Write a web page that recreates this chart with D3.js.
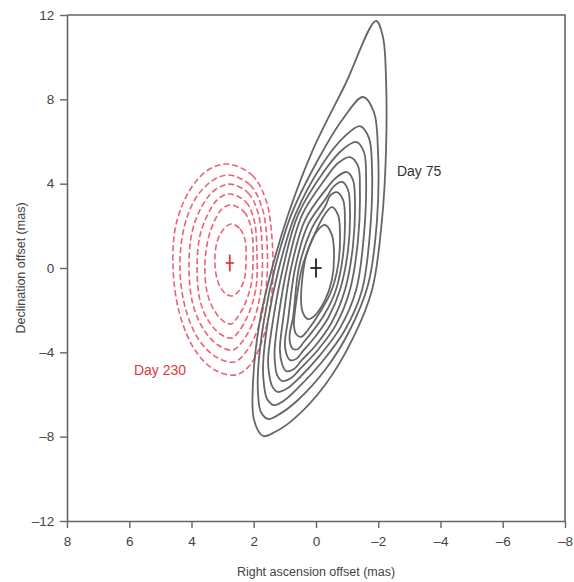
<!DOCTYPE html>
<html>
<head>
<meta charset="utf-8">
<script src="https://cdn.jsdelivr.net/npm/d3@7/dist/d3.min.js"></script>
<style>
  body { margin: 0; background: #fff; }
  svg text { font-family: 'Liberation Sans', Arial, sans-serif; }
</style>
</head>
<body>
<svg id="chart" width="574" height="582"></svg>
<script>
// tick values
const xTicks = [8, 6, 4, 2, 0, -2, -4, -6, -8];
const yTicks = [12, 8, 4, 0, -4, -8, -12];

// Day 75 contours, outer to inner, [ra, dec] in mas
const day75Contours = [
  [[-1.93, 11.72], [-2.15, 10.96], [-2.25, 8.92], [-2.25, 5.6], [-2.12, 2.28], [-1.8, -1.04], [-1.16, -3.41], [-0.29, -5.55], [0.67, -7.11], [1.32, -7.78], [1.7, -7.97], [1.99, -7.21], [2.02, -5.31], [1.8, -2.47], [1.41, 0], [0.9, 2.51], [0.1, 5.6], [-0.93, 8.68]],
  [[-1.51, 8.11], [-1.86, 7.4], [-1.99, 5.6], [-1.96, 2.28], [-1.67, -0.81], [-1.09, -2.94], [-0.29, -4.84], [0.58, -6.26], [1.16, -6.92], [1.54, -7.16], [1.77, -6.83], [1.86, -6.02], [1.86, -4.84], [1.67, -2.47], [1.32, 0], [0.8, 2.51], [-0.06, 5.12], [-0.84, 7.02]],
  [[-1.41, 6.73], [-1.7, 6.17], [-1.8, 4.65], [-1.74, 1.8], [-1.48, -1.04], [-0.93, -2.94], [-0.19, -4.46], [0.58, -5.69], [1.0, -6.26], [1.35, -6.5], [1.57, -6.21], [1.67, -5.55], [1.7, -4.6], [1.54, -2.47], [1.19, 0], [0.67, 2.51], [-0.19, 4.89], [-0.87, 6.17]],
  [[-1.29, 5.98], [-1.54, 5.5], [-1.61, 4.17], [-1.54, 1.57], [-1.29, -1.04], [-0.77, -2.85], [-0.13, -4.13], [0.51, -5.17], [0.9, -5.69], [1.22, -5.88], [1.41, -5.6], [1.51, -4.98], [1.54, -4.36], [1.38, -2.47], [1.06, 0], [0.58, 2.51], [-0.29, 4.65], [-0.84, 5.6]],
  [[-1.09, 5.26], [-1.35, 4.84], [-1.41, 3.7], [-1.35, 1.33], [-1.09, -1.04], [-0.64, -2.7], [-0.06, -3.89], [0.48, -4.74], [0.8, -5.22], [1.09, -5.36], [1.25, -5.07], [1.32, -4.46], [1.33, -3.9], [1.22, -2.47], [0.93, 0], [0.45, 2.51], [-0.32, 4.27], [-0.71, 4.98]],
  [[-1.0, 4.55], [-1.19, 4.17], [-1.25, 3.23], [-1.19, 1.09], [-0.93, -1.04], [-0.51, -2.56], [0, -3.65], [0.45, -4.36], [0.71, -4.79], [0.96, -4.89], [1.09, -4.55], [1.16, -3.89], [1.06, -2.47], [0.8, 0], [0.35, 2.28], [-0.35, 3.79], [-0.67, 4.32]],
  [[-0.84, 4.08], [-1.03, 3.7], [-1.09, 2.75], [-1.03, 0.85], [-0.77, -1.04], [-0.39, -2.37], [0.06, -3.32], [0.42, -3.94], [0.64, -4.32], [0.84, -4.36], [0.96, -4.03], [1.0, -3.56], [0.9, -2.47], [0.67, 0], [0.26, 2.04], [-0.35, 3.37], [-0.55, 3.84]],
  [[-0.67, 3.6], [-0.87, 3.23], [-0.93, 2.28], [-0.87, 0.62], [-0.64, -1.04], [-0.26, -2.23], [0.13, -3.04], [0.39, -3.51], [0.58, -3.84], [0.74, -3.84], [0.84, -3.51], [0.84, -3.08], [0.74, -2.37], [0.55, 0], [0.16, 1.8], [-0.32, 2.99], [-0.45, 3.42]],
  [[-0.51, 2.89], [-0.71, 2.51], [-0.77, 1.57], [-0.71, 0.14], [-0.48, -1.14], [-0.13, -2.09], [0.26, -2.94], [0.48, -3.27], [0.64, -3.13], [0.71, -2.7], [0.67, -1.99], [0.45, 0], [0.1, 1.42], [-0.29, 2.56]],
  [[-0.29, 2.04], [-0.51, 1.57], [-0.58, 0.62], [-0.51, -0.57], [-0.29, -1.52], [0.06, -2.28], [0.26, -2.42], [0.42, -2.13], [0.48, -1.52], [0.35, 0.38], [0.13, 1.33], [-0.06, 1.8]]
];

// Day 230 contours, outer to inner
const day230Contours = [
  [[2.83, 4.93], [2.06, 4.41], [1.61, 3.23], [1.41, 1.33], [1.41, -1.04], [1.67, -3.18], [2.12, -4.6], [2.57, -5.07], [3.25, -4.84], [3.89, -3.89], [4.37, -2.23], [4.59, -0.09], [4.5, 2.04], [4.05, 3.7], [3.47, 4.65]],
  [[2.8, 4.41], [2.12, 3.94], [1.73, 2.85], [1.57, 1.09], [1.61, -1.04], [1.86, -2.85], [2.25, -3.98], [2.63, -4.46], [3.21, -4.22], [3.76, -3.41], [4.18, -1.99], [4.37, -0.09], [4.24, 1.9], [3.86, 3.32], [3.34, 4.13]],
  [[2.76, 3.98], [2.18, 3.56], [1.86, 2.61], [1.73, 0.95], [1.77, -1.04], [2.02, -2.56], [2.38, -3.51], [2.67, -3.89], [3.15, -3.65], [3.6, -2.94], [3.95, -1.75], [4.08, -0.09], [3.98, 1.71], [3.66, 2.94], [3.25, 3.7]],
  [[2.76, 3.51], [2.25, 3.13], [1.99, 2.28], [1.9, 0.85], [1.93, -0.95], [2.18, -2.23], [2.47, -2.99], [2.7, -3.32], [3.08, -3.13], [3.47, -2.47], [3.73, -1.52], [3.82, 0], [3.73, 1.52], [3.47, 2.56], [3.15, 3.27]],
  [[2.73, 2.99], [2.31, 2.66], [2.09, 1.94], [2.02, 0.71], [2.09, -0.81], [2.31, -1.8], [2.54, -2.37], [2.73, -2.66], [3.02, -2.47], [3.31, -1.9], [3.5, -1.14], [3.57, 0.14], [3.47, 1.33], [3.28, 2.18], [3.02, 2.8]],
  [[2.73, 2.09], [2.44, 1.85], [2.28, 1.33], [2.25, 0.38], [2.31, -0.57], [2.51, -1.14], [2.73, -1.33], [2.96, -1.14], [3.15, -0.66], [3.25, 0.28], [3.18, 1.23], [2.99, 1.8]]
];

// positions with error bars: [ra, dec, raErr, decErr]
const day75Pos = [0, 0, 0.18, 0.45];
const day230Pos = [2.77, 0.24, 0.13, 0.4];

const labels = [
  { text: 'Day 75', x: -2.6, y: 4.6, color: '#333' },
  { text: 'Day 230', x: 5.85, y: -4.85, color: '#e0383c' }
];

const margin = { top: 15, right: 9, bottom: 61, left: 67 };
const width = 574 - margin.left - margin.right;
const height = 582 - margin.top - margin.bottom;

const svg = d3.select('#chart');
const g = svg.append('g').attr('transform', `translate(${margin.left},${margin.top})`);

const xScale = d3.scaleLinear().domain([8, -8]).range([0, width]);
const yScale = d3.scaleLinear().domain([-12, 12]).range([height, 0]);

const fmt = d => (d < 0 ? '\u2013' + Math.abs(d) : d);

// frame: top and right lines
g.append('path')
  .attr('d', `M0,0H${width}V${height}`)
  .attr('fill', 'none')
  .attr('stroke', '#666')
  .attr('stroke-width', 1.6);

const xAxis = g.append('g')
  .attr('transform', `translate(0,${height})`)
  .call(d3.axisBottom(xScale).tickValues(xTicks).tickSize(7).tickSizeOuter(0).tickFormat(fmt));

const yAxis = g.append('g')
  .call(d3.axisLeft(yScale).tickValues(yTicks).tickSize(7).tickSizeOuter(0).tickFormat(fmt));

[xAxis, yAxis].forEach(a => {
  a.select('.domain').attr('stroke', '#666').attr('stroke-width', 1.6);
  a.selectAll('.tick line').attr('stroke', '#666').attr('stroke-width', 1.4);
  a.selectAll('.tick text')
    .attr('fill', '#444')
    .style('font-size', '13.5px');
});
xAxis.selectAll('.tick text').attr('dy', '1.1em');
yAxis.selectAll('.tick text').attr('dx', '-0.2em');

const line = d3.line()
  .x(d => xScale(d[0]))
  .y(d => yScale(d[1]))
  .curve(d3.curveCatmullRomClosed.alpha(0.5));

g.append('g')
  .selectAll('path')
  .data(day230Contours)
  .enter()
  .append('path')
  .attr('d', line)
  .attr('fill', 'none')
  .attr('stroke', '#eb6276')
  .attr('stroke-width', 1.6)
  .attr('stroke-dasharray', '6,3');

g.append('g')
  .selectAll('path')
  .data(day75Contours)
  .enter()
  .append('path')
  .attr('d', line)
  .attr('fill', 'none')
  .attr('stroke', '#666')
  .attr('stroke-width', 1.8);

// error crosses
[[day75Pos, '#222'], [day230Pos, '#e0383c']].forEach(([p, c]) => {
  const cross = g.append('g').attr('stroke', c).attr('stroke-width', 1.8);
  cross.append('line')
    .attr('x1', xScale(p[0] - p[2])).attr('x2', xScale(p[0] + p[2]))
    .attr('y1', yScale(p[1])).attr('y2', yScale(p[1]));
  cross.append('line')
    .attr('x1', xScale(p[0])).attr('x2', xScale(p[0]))
    .attr('y1', yScale(p[1] - p[3])).attr('y2', yScale(p[1] + p[3]));
});

g.selectAll('.label')
  .data(labels)
  .enter()
  .append('text')
  .attr('class', 'label')
  .attr('x', d => xScale(d.x))
  .attr('y', d => yScale(d.y))
  .attr('dy', '0.35em')
  .attr('fill', d => d.color)
  .style('font-size', '14px')
  .text(d => d.text);

g.append('text')
  .attr('x', width / 2)
  .attr('y', height + 55)
  .attr('text-anchor', 'middle')
  .attr('fill', '#444')
  .style('font-size', '12.5px')
  .text('Right ascension offset (mas)');

g.append('text')
  .attr('transform', `translate(-42,${height / 2}) rotate(-90)`)
  .attr('text-anchor', 'middle')
  .attr('fill', '#444')
  .style('font-size', '12.5px')
  .text('Declination offset (mas)');
</script>
</body>
</html>
